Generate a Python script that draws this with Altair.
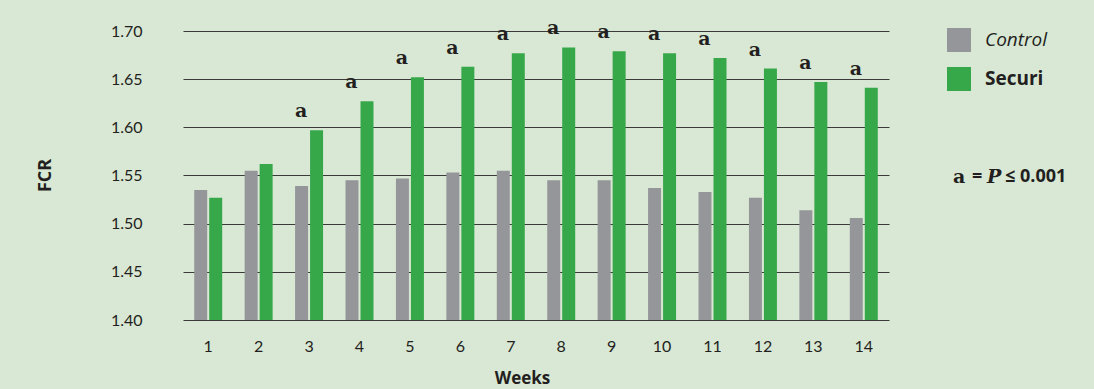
import altair as alt
import pandas as pd

# FCR by week for the two feeding groups
weeks = [str(w) for w in range(1, 15)]
control = [1.535, 1.555, 1.539, 1.545, 1.547, 1.553, 1.555,
           1.545, 1.545, 1.537, 1.533, 1.527, 1.514, 1.506]
securi = [1.527, 1.562, 1.597, 1.627, 1.652, 1.663, 1.677,
          1.683, 1.679, 1.677, 1.672, 1.661, 1.647, 1.641]
# significance letter shown above each week (blank = not significant)
sig = ["", "", "a", "a", "a", "a", "a", "a", "a", "a", "a", "a", "a", "a"]
groups = ["Control", "Securi"]
y_ticks = [1.40, 1.45, 1.50, 1.55, 1.60, 1.65, 1.70]

INK = "#231f20"
SANS = "Lato"
WIDE = "Open Sans"
SERIF = "DejaVu Serif"

rows = []
for w, c, s in zip(weeks, control, securi):
    rows.append({"Week": w, "Group": "Control", "FCR": c})
    rows.append({"Week": w, "Group": "Securi", "FCR": s})
bars_df = pd.DataFrame(rows)
sig_df = pd.DataFrame({"Week": weeks, "FCR": securi, "sig": sig})

x_scale = alt.Scale(domain=weeks, paddingInner=0.445, paddingOuter=0.2225)
y_scale = alt.Scale(domain=[1.40, 1.70], nice=False, zero=False)

bars = alt.Chart(bars_df).mark_bar().encode(
    x=alt.X("Week:N", scale=x_scale, sort=weeks,
            axis=alt.Axis(title="Weeks", labelAngle=0, labelFont=SANS,
                          labelFontSize=16, labelColor=INK, labelPadding=18,
                          ticks=False, tickSize=0, domain=False, grid=False,
                          titleFont=WIDE, titleFontSize=17, titleFontWeight="bold",
                          titleColor=INK, titleX=339, titleY=58,
                          titleBaseline="middle")),
    xOffset=alt.XOffset("Group:N", sort=groups,
                        scale=alt.Scale(paddingInner=0.133, paddingOuter=0)),
    y=alt.Y("FCR:Q", scale=y_scale,
            axis=alt.Axis(values=y_ticks, format=".2f", title="FCR",
                          labelFont=SANS, labelFontSize=16, labelColor=INK,
                          labelPadding=41, ticks=False, tickSize=0, domain=False,
                          grid=True, gridColor="#3a3a38", gridWidth=1.2,
                          titleFont=WIDE, titleFontSize=18, titleFontWeight="bold",
                          titleColor=INK, titleX=-138, titleY=144,
                          titleAlign="center", titleBaseline="middle")),
    y2=alt.datum(1.40),
    color=alt.Color("Group:N", sort=groups,
                    scale=alt.Scale(domain=groups, range=["#959699", "#36a84a"]),
                    legend=alt.Legend(
                        title=None, orient="none", legendX=764, legendY=-3,
                        symbolType="square", symbolSize=576, symbolStrokeWidth=0,
                        symbolOpacity=1, labelFont=WIDE, labelFontSize=19,
                        labelColor=INK, labelOffset=14, rowPadding=15,
                        padding=0,
                        labelFontStyle=alt.ExprRef("datum.label == 'Control' ? 'italic' : 'normal'"),
                        labelFontWeight=alt.ExprRef("datum.label == 'Control' ? 'normal' : 'bold'"),
                    )),
)

letters = alt.Chart(sig_df).mark_text(
    font=SERIF, fontSize=19, fontWeight="bold", color=INK, dx=-8, dy=-19
).encode(
    x=alt.X("Week:N", scale=x_scale, sort=weeks),
    y=alt.Y("FCR:Q", scale=y_scale),
    text="sig:N",
)


def note(txt, xpos, font, size=18, style="normal"):
    return alt.Chart().mark_text(
        text=txt, font=font, fontSize=size, fontWeight="bold", fontStyle=style,
        color=INK, align="left", baseline="middle",
    ).encode(x=alt.value(xpos), y=alt.value(146))


key = (note("a", 770, SERIF, 19) + note("=", 789, WIDE)
       + note("P", 804, SERIF, 19, "italic") + note("≤ 0.001", 822, WIDE))

chart = alt.layer(bars, letters, key).properties(
    width=706, height=289,
    autosize=alt.AutoSizeParams(type="none"),
    padding={"left": 183, "top": 31, "right": 205, "bottom": 69},
    background="#d9e8d4",
).configure_view(stroke=None)

chart.save("out.html", embed_options={"renderer": "svg", "actions": False})
